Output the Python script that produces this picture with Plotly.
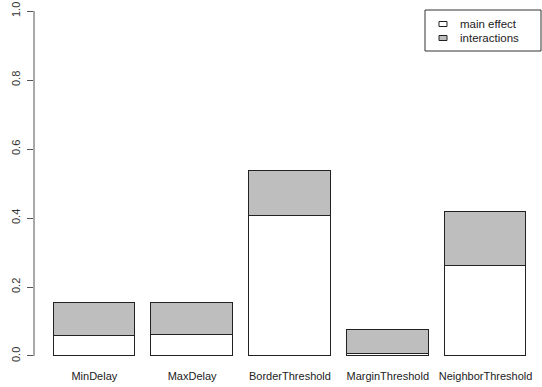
import plotly.graph_objects as go

# Sensitivity indices per parameter
parameters = ["MinDelay", "MaxDelay", "BorderThreshold", "MarginThreshold", "NeighborThreshold"]
main_effect = [0.058, 0.060, 0.406, 0.007, 0.260]
interactions = [0.096, 0.095, 0.131, 0.067, 0.157]

y_ticks = [0.0, 0.2, 0.4, 0.6, 0.8, 1.0]
y_tick_labels = ["0.0", "0.2", "0.4", "0.6", "0.8", "1.0"]

W, H = 542, 387
ML, MR, MT, MB = 34, 0, 0, 19
PW, PH = W - ML - MR, H - MT - MB

FONT = "Liberation Sans, Arial, Helvetica, sans-serif"
EDGE = "#222222"
GRAY = "#BEBEBE"

fig = go.Figure()
fig.add_trace(go.Bar(
    x=parameters, y=main_effect, name="main effect",
    marker=dict(color="white", line=dict(color=EDGE, width=1)),
    width=1 / 1.2, showlegend=False,
))
fig.add_trace(go.Bar(
    x=parameters, y=interactions, name="interactions",
    marker=dict(color=GRAY, line=dict(color=EDGE, width=1)),
    width=1 / 1.2, showlegend=False,
))


def px(x):
    return (x - ML) / PW


def py(y):
    return 1 - (y - MT) / PH


shapes = [
    # y axis line spanning the tick range only
    dict(type="line", xref="paper", yref="y", x0=0, x1=0, y0=0, y1=1,
         line=dict(color="#555555", width=1)),
    # legend frame
    dict(type="rect", xref="paper", yref="paper",
         x0=px(425), x1=px(541), y0=py(51), y1=py(10),
         line=dict(color="#333333", width=1), fillcolor="white", layer="above"),
]
annotations = []
legend_rows = [("main effect", "white", 24), ("interactions", GRAY, 38)]
for label, fill, yc in legend_rows:
    shapes.append(dict(type="rect", xref="paper", yref="paper",
                       x0=px(439), x1=px(447), y0=py(yc + 2.5), y1=py(yc - 2.5),
                       line=dict(color=EDGE, width=1), fillcolor=fill, layer="above"))
    annotations.append(dict(text=label, xref="paper", yref="paper",
                            x=px(458), y=py(yc), xanchor="left", yanchor="middle",
                            showarrow=False, font=dict(size=11.5, color="#222222", family=FONT)))

fig.update_layout(
    width=W, height=H,
    margin=dict(l=ML, r=MR, t=MT, b=MB, pad=0),
    barmode="stack", bargap=0,
    plot_bgcolor="white", paper_bgcolor="white",
    font=dict(family=FONT, size=11, color="#222222"),
    shapes=shapes, annotations=annotations,
    xaxis=dict(range=[-0.617, 4.577], showline=False, showgrid=False, zeroline=False,
               ticks="", tickfont=dict(size=11, color="#222222")),
    yaxis=dict(range=[-0.0348, 1.0319], tickvals=y_ticks, ticktext=y_tick_labels,
               tickangle=-90, ticks="outside", ticklen=6, tickcolor="#555555",
               ticklabelstandoff=3,
               showline=False, showgrid=False, zeroline=False,
               tickfont=dict(size=11, color="#333333")),
)

fig.write_html("out.html")
